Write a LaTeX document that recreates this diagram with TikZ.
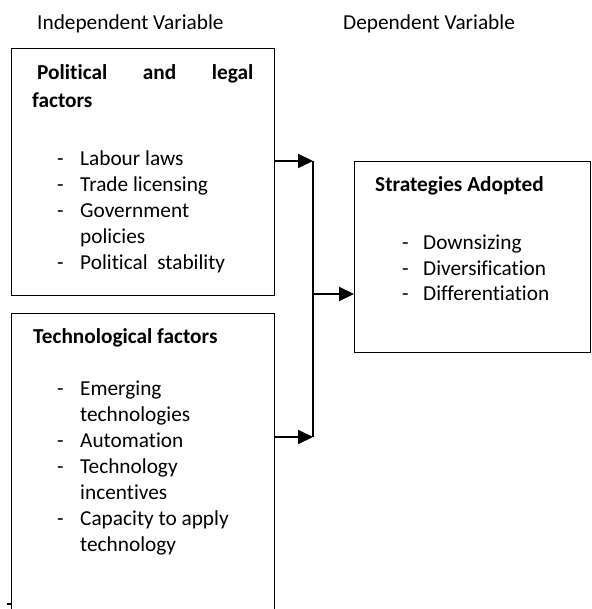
\documentclass[tikz,border=0pt]{standalone}
\usepackage{fontspec}
\setmainfont{Carlito}[Ligatures=NoCommon]
\usetikzlibrary{arrows.meta}
\begin{document}
\begin{tikzpicture}[x=1pt,y=-1pt,
  frame/.style={draw=black, line width=1pt, inner sep=0pt, anchor=north west},
  txt/.style={anchor=base west, inner sep=0pt, font=\fontsize{21.3}{26}\selectfont},
  head/.style={txt, font=\fontsize{21.3}{26}\selectfont\bfseries},
  conn/.style={draw=black, line width=2pt},
  arr/.style={conn, -{Triangle[length=15pt,width=14pt]}}
]
\useasboundingbox (0,0) rectangle (591,609);

% column captions
\node[txt] (indep) at (37,30) {Independent Variable};
\node[txt] (dep) at (343,30) {Dependent Variable};

% political and legal factors
\node[frame, minimum width=263pt, minimum height=247pt] (pol) at (11,48) {};
\node[head] (polhead) at (37,80) {\makebox[216pt][s]{Political and legal}};
\node[head] (polhead2) at (32,108) {factors};
\node[txt] (pollist) at (57,166) {\begin{tabular}[t]{@{}p{23pt}@{}l@{}}
- & Labour laws\\
- & Trade licensing\\
- & Government\\
  & policies\\
- & Political\ \ stability
\end{tabular}};

% technological factors (box runs off the lower edge)
\node[inner sep=0pt, anchor=north west, minimum width=263pt, minimum height=296pt] (tech) at (11,313) {};
\draw[black, line width=1pt] (tech.south west) -- (tech.north west) -- (tech.north east) -- (tech.south east);
\node[head] (techhead) at (33,343) {Technological factors};
\node[txt] (techlist) at (57,395) {\begin{tabular}[t]{@{}p{23pt}@{}l@{}}
- & Emerging\\
  & technologies\\
- & Automation\\
- & Technology\\
  & incentives\\
- & Capacity to apply\\
  & technology
\end{tabular}};
\coordinate (tickend) at (7,604);
\draw[black, line width=1.5pt] (tickend) -- (tech.west |- tickend);

% strategies adopted
\node[frame, minimum width=236pt, minimum height=191pt] (strat) at (354,161) {};
\node[head] (strathead) at (375,192) {Strategies Adopted};
\node[txt, font=\fontsize{21.3}{25}\selectfont] (stratlist) at (402,250) {\begin{tabular}[t]{@{}p{21pt}@{}l@{}}
- & Downsizing\\
- & Diversification\\
- & Differentiation
\end{tabular}};

% connectors
\coordinate (jtop) at (313,161);
\coordinate (jbot) at (313,437);
\coordinate (jmid) at (313,294);
\draw[arr] (pol.east |- jtop) -- (jtop);
\draw[arr] (tech.east |- jbot) -- (jbot);
\draw[conn] (jtop) -- (jbot);
\draw[arr] (jmid) -- (strat.west |- jmid);
\end{tikzpicture}
\end{document}
